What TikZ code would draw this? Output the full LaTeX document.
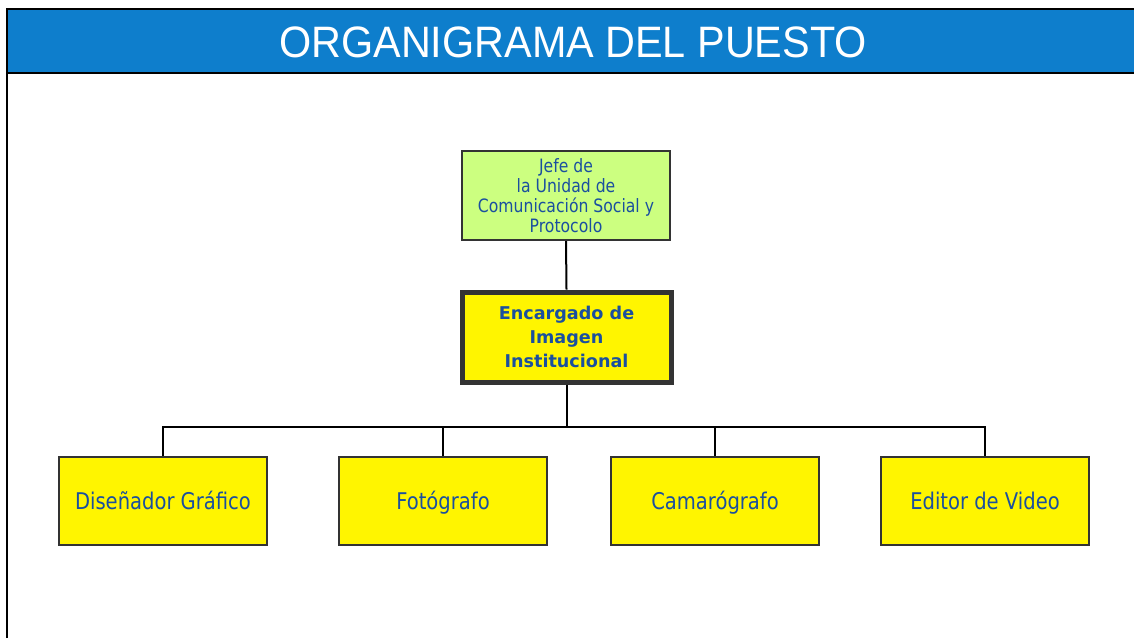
\documentclass[tikz,border=0pt]{standalone}
\usepackage{fontspec}
\setmainfont{DejaVu Sans}
\newfontfamily\narrowfont{DejaVu Sans}[FakeStretch=0.85]
\newfontfamily\titlefont{Liberation Sans}
\usepackage{xcolor}
\usepackage{tikz}
\usetikzlibrary{positioning}

\definecolor{headblue}{RGB}{14,126,204}
\definecolor{jefegreen}{RGB}{204,255,128}
\definecolor{boxyellow}{RGB}{255,245,0}
\definecolor{textblue}{RGB}{26,79,159}
\definecolor{edgegray}{RGB}{51,51,51}

\tikzset{
  jefebox/.style={draw=edgegray, line width=1pt, fill=jefegreen,
    minimum width=104pt, minimum height=44.5pt, inner sep=0pt,
    align=center, text=textblue, font=\narrowfont\fontsize{9.2}{10}\selectfont},
  encbox/.style={draw=edgegray, line width=2.5pt, fill=boxyellow,
    minimum width=104.5pt, minimum height=45pt, inner sep=0pt,
    align=center, text=textblue, font=\bfseries\fontsize{8.8}{12}\selectfont},
  staffbox/.style={draw=edgegray, line width=1pt, fill=boxyellow,
    minimum width=104pt, minimum height=44pt, inner sep=0pt,
    text height=8.5pt, text depth=0pt,
    text=textblue, font=\narrowfont\fontsize{11.5}{12}\selectfont},
  link/.style={line width=1pt, black}
}

\begin{document}
\begin{tikzpicture}[x=0.5pt, y=-0.5pt]
      \useasboundingbox (0,0) rectangle (1134,638);

      % header band
      \fill[headblue] (7,9) rectangle (1134,73);
      \draw[line width=1pt] (7,638) -- (7,9) -- (1134,9);
      \draw[line width=1pt] (7,73) -- (1134,73);
      \node[text=white] (title) at (573,42)
        {\titlefont\fontsize{22}{22}\selectfont\scalebox{0.94}[1]{ORGANIGRAMA DEL PUESTO}};

      % boxes
      \node[jefebox] (jefe) at (566,195.5) {Jefe de\\la Unidad de\\Comunicación Social y\\Protocolo};
      \node[encbox] (enc) at (566.5,337) {Encargado de\\Imagen\\Institucional};

      \foreach \x/\n/\t in {163/d1/Diseñador Gráfico, 443/d2/Fotógrafo,
                            715/d3/Camarógrafo, 985/d4/Editor de Video}{
        \node[staffbox] (\n) at (\x,501) {\t};
      }

      % connectors
      \coordinate (bus) at (566,427);
      \draw[link] (jefe.south) -- (enc.north);
      \draw[link] (enc.south) -- (enc.south |- bus);
      \draw[link] (d1.north) -- (d1.north |- bus) -| (d4.north);
      \draw[link] (d2.north) -- (d2.north |- bus);
      \draw[link] (d3.north) -- (d3.north |- bus);
    \end{tikzpicture}
\end{document}
